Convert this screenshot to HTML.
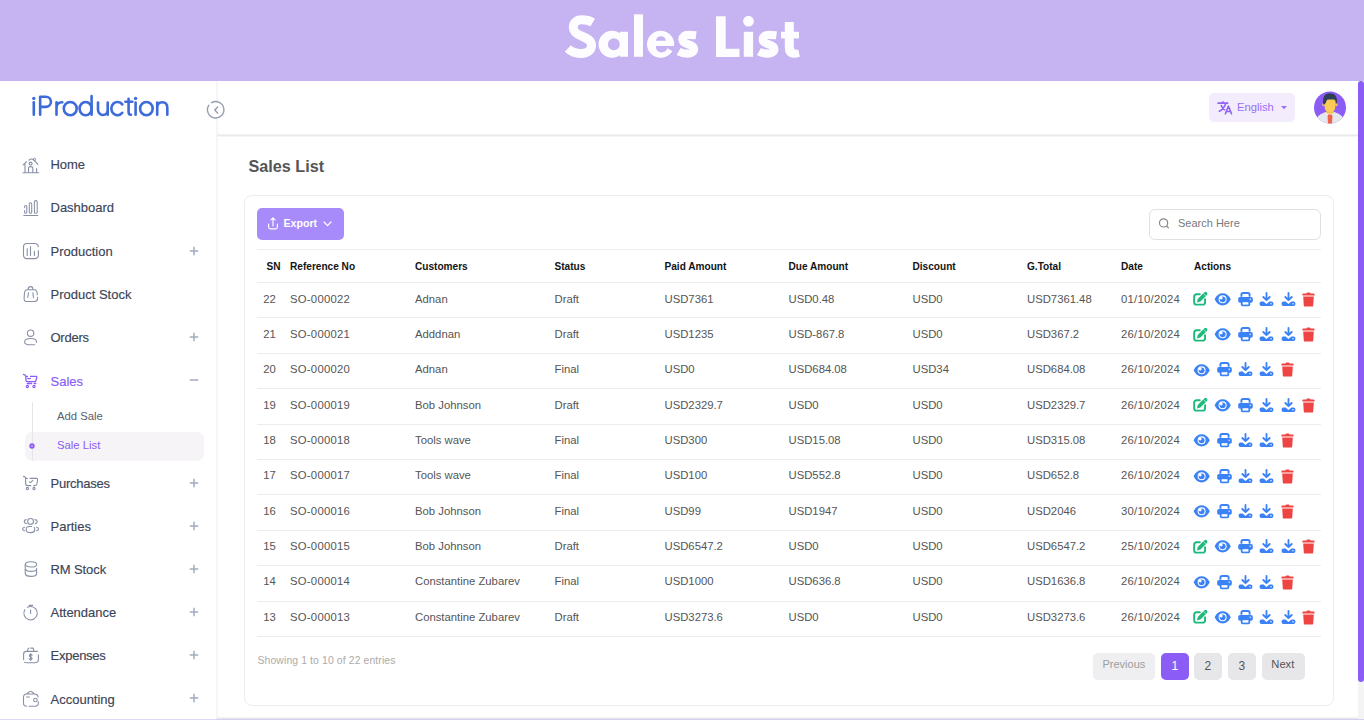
<!DOCTYPE html>
<html><head><meta charset="utf-8"><title>Sales List</title>
<style>
html,body{margin:0;padding:0;}
body{width:1364px;height:720px;overflow:hidden;position:relative;background:#fff;font-family:"Liberation Sans", sans-serif;}
.t{position:absolute;white-space:nowrap;}
.b{position:absolute;}
svg.b{overflow:visible;}
</style></head><body>
<div class="b" style="left:0px;top:0px;width:1364px;height:81px;background:#c6b3f2"></div>
<svg class="b" role="img" aria-label="Sales List" style="left:0px;top:0px;" width="1364" height="81" viewBox="0 0 1364 81"><path d="M592.7 22.5 C589.5 20.6 585.5 19.8 581.3 19.8 C576.5 19.8 573.3 23 573.3 27.5 C573.3 32 577 34.2 581.5 36 C587 38.2 591.5 40.2 591.5 45.5 C591.5 50.5 587 53.5 580.8 53.5 C575.5 53.5 571 51.5 567.8 48.5" fill="none" stroke="#fdfcff" stroke-width="9"/><path fill-rule="evenodd" d="M598.5 44.25 A13.5 13.5 0 1 0 625.5 44.25 A13.5 13.5 0 1 0 598.5 44.25 Z M607.9 44.25 A6 6 0 1 0 619.9 44.25 A6 6 0 1 0 607.9 44.25 Z" fill="#fdfcff"/><rect x="619.8" y="31.75" width="8.2" height="25" fill="#fdfcff"/><rect x="634" y="14.3" width="9" height="42.5" fill="#fdfcff"/><ellipse cx="660.6" cy="44.25" rx="13.6" ry="13.5" fill="#fdfcff"/><path d="M656 40.75 A4.9 4.6 0 0 1 665.8 40.75 Z" fill="#c6b3f2"/><path d="M656 46 H676 V53 L667.3 48.3 A5.3 4.8 0 0 1 656 46 Z" fill="#c6b3f2"/><path transform="translate(0 0)" d="M696.1 35.3 C693.5 35 690.5 34.9 688 34.9 C684.5 34.9 682.4 36.8 682.4 39.4 C682.4 42 685 43.3 688 44.2 C691.5 45.2 694.1 46.4 694.1 49 C694.1 52 691.2 53.6 687.5 53.6 C684 53.6 680.8 52.8 678.6 51.5" fill="none" stroke="#fdfcff" stroke-width="8.2"/><path d="M716 16.2 H725.7 V48.8 H739.5 V57 H716 Z" fill="#fdfcff"/><rect x="743.8" y="31.8" width="9.3" height="25" fill="#fdfcff"/><circle cx="748.5" cy="21.2" r="5.4" fill="#fdfcff"/><path transform="translate(80.3 0)" d="M696.1 35.3 C693.5 35 690.5 34.9 688 34.9 C684.5 34.9 682.4 36.8 682.4 39.4 C682.4 42 685 43.3 688 44.2 C691.5 45.2 694.1 46.4 694.1 49 C694.1 52 691.2 53.6 687.5 53.6 C684 53.6 680.8 52.8 678.6 51.5" fill="none" stroke="#fdfcff" stroke-width="8.2"/><path d="M784.8 22 H793.8 V46.5 Q793.8 49.8 796.5 49.8 Q797.6 49.8 798.2 49.5 L799.9 56.6 Q797.5 57.8 794.5 57.8 Q784.8 57.8 784.8 48 Z" fill="#fdfcff"/><rect x="781" y="31.8" width="18" height="6.6" fill="#fdfcff"/></svg>
<div class="b" style="left:0px;top:81px;width:1364px;height:639px;background:#fff"></div>
<div class="b" style="left:216px;top:81px;width:2px;height:639px;background:#f6f6f7"></div>
<div class="b" style="left:217px;top:134px;width:1141px;height:1px;background:#f1f1f3"></div>
<div class="b" style="left:217px;top:135px;width:1141px;height:1px;background:#ebebee"></div>
<div class="b" style="left:217px;top:136px;width:1141px;height:1px;background:#f5f5f7"></div>
<div class="b" style="left:217px;top:717px;width:1141px;height:1px;background:#f3f3f5"></div>
<div class="b" style="left:217px;top:718px;width:1141px;height:1px;background:#e7e8ea"></div>
<div class="b" style="left:0px;top:719px;width:1364px;height:1px;background:#d8cdf0"></div>
<div class="b" style="left:0px;top:719px;width:216px;height:1px;background:#e0d6f9"></div>
<svg class="b" role="img" aria-label="iProduction" style="left:0px;top:81px;" width="216" height="54" viewBox="0 81 216 54"><g fill="none" stroke="#3d6bd9" stroke-width="2.6" stroke-linecap="round" stroke-linejoin="round"><path d="M33.8 102.3 V114.7"/><path d="M40.15 114.7 V96.7 H45.8 A5.15 5.1 0 0 1 45.8 106.9 H40.15"/><path d="M56.5 102.3 V114.7 M56.5 108 Q56.5 102.3 62.3 102.3"/><ellipse cx="70.25" cy="108.6" rx="6.45" ry="6.6"/><ellipse cx="85.6" cy="108.6" rx="6" ry="6.6"/><path d="M91.6 96 V114.7"/><path d="M98 102.6 V109.4 A4.85 5.6 0 0 0 107.7 109.4 V102.6 M107.7 108 V114.7"/><path d="M122.3 104.4 A6.2 6.6 0 1 0 122.3 112.8"/><path d="M128.6 98.7 V112 Q128.6 114.8 131 114.8 M125.4 101.8 H132.3"/><path d="M135.6 102.6 V114.7"/><ellipse cx="146.4" cy="108.6" rx="6.3" ry="6.6"/><path d="M157.2 102.6 V114.7 M157.2 108 Q157.2 102.3 162.25 102.3 Q167.3 102.3 167.3 108 V114.7"/></g><circle cx="33.8" cy="98.4" r="1.7" fill="#3d6bd9"/><circle cx="135.6" cy="98.4" r="1.7" fill="#3d6bd9"/></svg>
<svg class="b" style="left:205.8px;top:99.5px;" width="20" height="20" viewBox="0 0 20 20"><circle cx="10" cy="10" r="8.6" fill="#fff"/><path d="M5.6 2.7 A8.2 8.2 0 1 1 2.9 5.2" fill="none" stroke="#969db2" stroke-width="1.35" stroke-linecap="round"/><path d="M11.6 7.1 L8.8 10 L11.6 12.9" fill="none" stroke="#969db2" stroke-width="1.45" stroke-linecap="round" stroke-linejoin="round"/></svg>
<svg class="b" style="left:18px;top:152px;" width="26" height="26" viewBox="0 0 26 26"><path d="M5.2 12.8 L8.6 9.6 M7 11.5 V20.8 M5 20.8 H20.6 M10.5 20.8 V16 Q10.5 14.6 12.6 14.6 Q14.8 14.6 14.8 16 V20.8 M18.6 16.5 V20.8 M15.6 7.6 L19.8 12.4 M11 8.2 Q13 6.2 15.6 7.6" fill="none" stroke="#8990a6" stroke-width="1.1" stroke-linecap="round"/><circle cx="12.6" cy="11.6" r="1.5" fill="none" stroke="#8990a6" stroke-width="1.1"/><circle cx="16.5" cy="7.5" r="1.2" fill="none" stroke="#8990a6" stroke-width="1"/></svg>
<div class="t" style="left:50.50px;top:157.50px;font-size:13px;line-height:13px;color:#3c4458;font-weight:500;letter-spacing:-0.1px;-webkit-text-stroke:0.15px #3c4458;">Home</div>
<svg class="b" style="left:18px;top:195px;" width="26" height="26" viewBox="0 0 26 26"><path d="M5.8 20.4 H19.8 M6.6 12.6 V11.6 Q6.6 10.5 7.7 10.5 Q8.8 10.5 8.8 11.6 V17.2 Q8.8 18.3 7.7 18.3 Q6.6 18.3 6.6 17.2 V15.4 M11.3 17.2 V8.9 Q11.3 7.8 12.5 7.8 Q13.7 7.8 13.7 8.9 V17.2 Q13.7 18.3 12.5 18.3 Q11.3 18.3 11.3 17.2 M16.4 17.2 V6.7 Q16.4 5.6 17.8 5.6 Q19.2 5.6 19.2 6.7 V17.2 Q19.2 18.3 17.8 18.3 Q16.4 18.3 16.4 17.2" fill="none" stroke="#8990a6" stroke-width="1.05" stroke-linecap="round"/></svg>
<div class="t" style="left:50.50px;top:200.50px;font-size:13px;line-height:13px;color:#3c4458;font-weight:500;letter-spacing:0px;-webkit-text-stroke:0.15px #3c4458;">Dashboard</div>
<svg class="b" style="left:18px;top:238px;" width="26" height="26" viewBox="0 0 26 26"><path d="M20.4 12.6 V17 Q20.4 20.6 16.8 20.6 H9 Q5.5 20.6 5.5 17 V9 Q5.5 5.5 9 5.5 H16.8 Q19.8 5.5 20.3 8.8 M9.2 10.8 V17.5 M12.5 8.6 V17.5 M16.4 13.4 V17.5" fill="none" stroke="#8990a6" stroke-width="1.1" stroke-linecap="round"/></svg>
<div class="t" style="left:50.50px;top:245.00px;font-size:13px;line-height:13px;color:#3c4458;font-weight:500;letter-spacing:0px;-webkit-text-stroke:0.15px #3c4458;">Production</div>
<svg class="b" style="left:189px;top:246px;" width="10" height="10" viewBox="0 0 10 10"><path d="M0.8 5 H9.2" stroke="#a3aac0" stroke-width="1.5"/><path d="M5 0.8 V9.2" stroke="#a3aac0" stroke-width="1.5"/></svg>
<svg class="b" style="left:18px;top:281px;" width="26" height="26" viewBox="0 0 26 26"><path d="M10.2 8.7 V8.2 Q10.2 5.6 12.6 5.6 Q14.9 5.6 14.9 8.2 V8.7 M19.3 13.8 Q19.2 8.8 16.5 8.8 H9.2 Q6.6 8.8 6.4 13 L6.1 17.6 Q6 20.5 9 20.5 H16.6 Q19.6 20.5 19.6 17.6 V16.2 M10.5 11.9 L9.7 16.4 M14.9 11.9 L15.5 16.4" fill="none" stroke="#8990a6" stroke-width="1.1" stroke-linecap="round"/></svg>
<div class="t" style="left:50.50px;top:287.50px;font-size:13px;line-height:13px;color:#3c4458;font-weight:500;letter-spacing:0px;-webkit-text-stroke:0.15px #3c4458;">Product Stock</div>
<svg class="b" style="left:18px;top:324px;" width="26" height="26" viewBox="0 0 26 26"><circle cx="12.6" cy="9.2" r="3.2" fill="none" stroke="#8990a6" stroke-width="1.1"/><path d="M18.6 18.2 Q18.6 14.5 12.8 14.5 Q6.6 14.5 6.6 17.9 Q6.6 20.8 12.6 20.8 H16.6" fill="none" stroke="#8990a6" stroke-width="1.1" stroke-linecap="round"/></svg>
<div class="t" style="left:50.50px;top:331.00px;font-size:13px;line-height:13px;color:#3c4458;font-weight:500;letter-spacing:-0.25px;-webkit-text-stroke:0.15px #3c4458;">Orders</div>
<svg class="b" style="left:189px;top:332px;" width="10" height="10" viewBox="0 0 10 10"><path d="M0.8 5 H9.2" stroke="#a3aac0" stroke-width="1.5"/><path d="M5 0.8 V9.2" stroke="#a3aac0" stroke-width="1.5"/></svg>
<svg class="b" style="left:18px;top:368px;" width="26" height="26" viewBox="0 0 26 26"><path d="M5.4 6.4 Q7.4 6.6 7.9 8.4 H9.4 M12.6 8.4 H18.4 Q19 8.6 18.8 9.6 L17.8 12.8 Q17.6 13.6 16.4 13.6 H9.4 Q7.9 13.6 7.9 12.2 V8.4 M9.8 10.4 Q10.9 11 12.4 10.4 M9.2 15.5 H13.6 M16.2 15.5 H17.8" fill="none" stroke="#8b5cf6" stroke-width="1.3" stroke-linecap="round"/><circle cx="9.4" cy="18.5" r="1.1" fill="none" stroke="#8b5cf6" stroke-width="1.2"/><circle cx="16" cy="18.5" r="1.1" fill="none" stroke="#8b5cf6" stroke-width="1.2"/></svg>
<div class="t" style="left:50.50px;top:375.00px;font-size:13px;line-height:13px;color:#8b5cf6;font-weight:500;letter-spacing:0px;-webkit-text-stroke:0.15px #8b5cf6;">Sales</div>
<svg class="b" style="left:189px;top:375px;" width="10" height="10" viewBox="0 0 10 10"><path d="M0.8 5 H9.2" stroke="#a3aac0" stroke-width="1.5"/></svg>
<svg class="b" style="left:18px;top:470px;" width="26" height="26" viewBox="0 0 26 26"><path d="M5.4 6.4 Q7.4 6.6 7.9 8.4 H9.4 M12 8.4 H18.6 Q19.8 8.6 19.6 10 L19 13.6 Q18.7 15.6 16.6 15.6 H15.6 M12.8 15.6 H9.6 Q7.6 15.6 7.6 13.6 V8.4 M11.6 12 L12.6 12.6 L14.8 10.4" fill="none" stroke="#8990a6" stroke-width="1.1" stroke-linecap="round"/><circle cx="9.4" cy="18.5" r="1.1" fill="none" stroke="#8990a6" stroke-width="1.1"/><circle cx="16" cy="18.5" r="1.1" fill="none" stroke="#8990a6" stroke-width="1.1"/></svg>
<div class="t" style="left:50.50px;top:477.00px;font-size:13px;line-height:13px;color:#3c4458;font-weight:500;letter-spacing:-0.25px;-webkit-text-stroke:0.15px #3c4458;">Purchases</div>
<svg class="b" style="left:189px;top:478px;" width="10" height="10" viewBox="0 0 10 10"><path d="M0.8 5 H9.2" stroke="#a3aac0" stroke-width="1.5"/><path d="M5 0.8 V9.2" stroke="#a3aac0" stroke-width="1.5"/></svg>
<svg class="b" style="left:18px;top:513px;" width="26" height="26" viewBox="0 0 26 26"><circle cx="12.6" cy="8.4" r="2.9" fill="none" stroke="#8990a6" stroke-width="1.1"/><path d="M8.4 10.6 Q6.2 10.4 6.2 8.6 Q6.2 6.8 8.2 6.6 M17 6.6 Q19.2 6.8 19.2 8.6 Q19.2 10.4 17.2 10.6 M13.6 13.5 H11.4 Q8.2 13.5 8.2 16.4 Q8.2 19.6 12.6 19.6 Q16.6 19.6 16.8 16.6 Q16.8 15 16.2 14.4 M6.6 14.2 Q4.6 14.6 4.6 16 Q4.6 17.4 6.6 17.8 M18.6 14.2 Q20.6 14.6 20.6 16 Q20.6 17.4 18.6 17.8" fill="none" stroke="#8990a6" stroke-width="1.1" stroke-linecap="round"/></svg>
<div class="t" style="left:50.50px;top:520.00px;font-size:13px;line-height:13px;color:#3c4458;font-weight:500;letter-spacing:0px;-webkit-text-stroke:0.15px #3c4458;">Parties</div>
<svg class="b" style="left:189px;top:521px;" width="10" height="10" viewBox="0 0 10 10"><path d="M0.8 5 H9.2" stroke="#a3aac0" stroke-width="1.5"/><path d="M5 0.8 V9.2" stroke="#a3aac0" stroke-width="1.5"/></svg>
<svg class="b" style="left:18px;top:556px;" width="26" height="26" viewBox="0 0 26 26"><ellipse cx="13" cy="8.4" rx="5.6" ry="2.6" fill="none" stroke="#8990a6" stroke-width="1.1"/><path d="M7.2 8.4 V17.4 Q7.4 20.4 13 20.4 Q18.4 20.4 18.6 17.6 V12.4 M7.6 13.2 Q8.6 15.4 13 15.4 Q17.4 15.4 18.2 14" fill="none" stroke="#8990a6" stroke-width="1.1" stroke-linecap="round"/></svg>
<div class="t" style="left:50.50px;top:563.00px;font-size:13px;line-height:13px;color:#3c4458;font-weight:500;letter-spacing:-0.1px;-webkit-text-stroke:0.15px #3c4458;">RM Stock</div>
<svg class="b" style="left:189px;top:564px;" width="10" height="10" viewBox="0 0 10 10"><path d="M0.8 5 H9.2" stroke="#a3aac0" stroke-width="1.5"/><path d="M5 0.8 V9.2" stroke="#a3aac0" stroke-width="1.5"/></svg>
<svg class="b" style="left:18px;top:599px;" width="26" height="26" viewBox="0 0 26 26"><path d="M9.4 8.3 Q11 7.5 12.6 7.5 A6.7 6.7 0 1 1 6.8 10.8 M11.2 6.4 H14.6 M12.6 11 V14.4" fill="none" stroke="#8990a6" stroke-width="1.1" stroke-linecap="round"/></svg>
<div class="t" style="left:50.50px;top:606.00px;font-size:13px;line-height:13px;color:#3c4458;font-weight:500;letter-spacing:0px;-webkit-text-stroke:0.15px #3c4458;">Attendance</div>
<svg class="b" style="left:189px;top:607px;" width="10" height="10" viewBox="0 0 10 10"><path d="M0.8 5 H9.2" stroke="#a3aac0" stroke-width="1.5"/><path d="M5 0.8 V9.2" stroke="#a3aac0" stroke-width="1.5"/></svg>
<svg class="b" style="left:18px;top:642px;" width="26" height="26" viewBox="0 0 26 26"><path d="M5.6 17.6 V12 Q5.6 9.4 8.6 9.4 H19.4 M20.4 12.8 V17.6 Q20.4 20.8 16.8 20.8 H8.8 Q6.6 20.8 6.4 20.2 M9.6 9 V7.8 Q10 6.2 11 6 M12.8 6.1 H14.8 Q15.6 6.2 15.6 7.6 V9 M14 13.4 Q13.6 12.3 12.6 12.3 Q11.4 12.3 11.4 13.5 Q11.4 14.6 12.6 14.9 Q14 15.2 14 16.4 Q14 17.6 12.6 17.6 Q11.4 17.6 11.1 16.6 M12.6 11.6 V18.4" fill="none" stroke="#8990a6" stroke-width="1.1" stroke-linecap="round"/></svg>
<div class="t" style="left:50.50px;top:649.00px;font-size:13px;line-height:13px;color:#3c4458;font-weight:500;letter-spacing:-0.25px;-webkit-text-stroke:0.15px #3c4458;">Expenses</div>
<svg class="b" style="left:189px;top:650px;" width="10" height="10" viewBox="0 0 10 10"><path d="M0.8 5 H9.2" stroke="#a3aac0" stroke-width="1.5"/><path d="M5 0.8 V9.2" stroke="#a3aac0" stroke-width="1.5"/></svg>
<svg class="b" style="left:18px;top:686px;" width="26" height="26" viewBox="0 0 26 26"><path d="M8.6 20.2 Q5.5 20.2 5.5 17 V11.4 Q5.5 8 8.6 8 H16.8 Q19.6 8 20.2 11 M20.3 15.8 V17 Q20.3 20.2 17 20.2 H11 M8.4 8 L11.6 5.6 Q12.6 4.9 13.6 5.6 L16.6 8 M8.6 11 H11.4" fill="none" stroke="#8990a6" stroke-width="1.1" stroke-linecap="round"/><circle cx="17.4" cy="14" r="1.8" fill="none" stroke="#8990a6" stroke-width="1.1"/></svg>
<div class="t" style="left:50.50px;top:692.50px;font-size:13px;line-height:13px;color:#3c4458;font-weight:500;letter-spacing:0px;-webkit-text-stroke:0.15px #3c4458;">Accounting</div>
<svg class="b" style="left:189px;top:693px;" width="10" height="10" viewBox="0 0 10 10"><path d="M0.8 5 H9.2" stroke="#a3aac0" stroke-width="1.5"/><path d="M5 0.8 V9.2" stroke="#a3aac0" stroke-width="1.5"/></svg>
<div class="b" style="left:25px;top:432px;width:179px;height:29px;background:#f6f4f6;border-radius:7px"></div>
<div class="b" style="left:32px;top:402px;width:1px;height:59px;background:#e6e6ea"></div>
<svg class="b" style="left:29.4px;top:443.4px;" width="6" height="6" viewBox="0 0 6 6"><circle cx="3" cy="3" r="2.7" fill="#8b5cf6"/><circle cx="3" cy="3" r="0.8" fill="#e9e0fd"/></svg>
<div class="t" style="left:57.00px;top:411.23px;font-size:11.3px;line-height:11.3px;color:#5a5f6b;font-weight:400;">Add Sale</div>
<div class="t" style="left:57.00px;top:440.03px;font-size:11.3px;line-height:11.3px;color:#8b5cf6;font-weight:400;">Sale List</div>
<div class="b" style="left:1209px;top:93px;width:86px;height:29px;background:#f2ecfd;border-radius:5px"></div>
<svg class="b" style="left:1217px;top:101px;" width="16" height="14" viewBox="0 0 16 14"><path d="M1 2.1 H10.8 M5.9 0.7 V2 M8.7 2.7 Q6.6 8.2 2.3 10.2 M4.3 4.6 Q5.6 7.6 7.6 8.7" fill="none" stroke="#9062f6" stroke-width="1.6" stroke-linecap="round"/><path d="M8.4 12.8 L11.4 5.1 L14.5 12.8 M9.5 10.5 H13.3" fill="none" stroke="#9062f6" stroke-width="1.6" stroke-linecap="round" stroke-linejoin="round"/></svg>
<div class="t" style="left:1237.00px;top:101.52px;font-size:11.2px;line-height:11.2px;color:#9a6ef7;font-weight:400;">English</div>
<svg class="b" style="left:1281.2px;top:106.2px;" width="6" height="3.4" viewBox="0 0 6 3.4"><path d="M0 0 H6 L3 3.2 Z" fill="#9a6ef7"/></svg>
<svg class="b" style="left:1314px;top:91px;" width="32" height="33" viewBox="0 0 32 33"><defs><clipPath id="ac"><circle cx="16" cy="16.5" r="16"/></clipPath></defs><circle cx="16" cy="16.5" r="16" fill="#8b5cf6"/><g clip-path="url(#ac)"><path d="M0 34 Q1.5 23.8 11 21.2 H21 Q30.5 23.8 32 34 Z" fill="#e4e8ed"/><path d="M11 21.2 L13.6 24.5 L16 22.6 L18.4 24.5 L21 21.2 Z" fill="#f6f7f9"/><rect x="12.4" y="17" width="7.2" height="5.6" fill="#f3bd48"/><path d="M14 23.4 H18 L18.4 25.4 L18 33 H14 L13.6 25.4 Z" fill="#f0624a"/><ellipse cx="9.6" cy="13.6" rx="1.3" ry="1.6" fill="#fbc955"/><ellipse cx="22.4" cy="13.6" rx="1.3" ry="1.6" fill="#fbc955"/><path d="M10.6 8 V15 Q10.6 21.4 16 21.4 Q21.4 21.4 21.4 15 V8 Z" fill="#fcca56"/><path d="M9.2 13.6 Q7.8 2.3 16 2.3 Q24.2 2.3 22.8 13.6 L21.8 10.6 Q21.4 8.4 19.6 8.4 H13.8 Q12.4 8.8 11.9 11.8 L10.4 13.6 Z" fill="#2e3e55"/></g></svg>
<div class="b" style="left:1358px;top:81px;width:6px;height:638px;background:#f4f4f5"></div>
<div class="b" style="left:1358px;top:81px;width:6px;height:601px;background:#8b5cf6;border-radius:3px"></div>
<div class="t" style="left:248.50px;top:157.89px;font-size:16.2px;line-height:16.2px;color:#555;font-weight:700;">Sales List</div>
<div class="b" style="left:244px;top:195px;width:1090px;height:511px;border:1px solid #ececee;border-radius:8px;box-sizing:border-box;background:#fff"></div>
<div class="b" style="left:257px;top:208px;width:87px;height:32px;background:#a78bfa;border-radius:5px"></div>
<svg class="b" style="left:267px;top:216px;" width="12" height="14" viewBox="0 0 12 14"><path d="M1.6 8 V11 Q1.6 12.9 3.4 12.9 H8.6 Q10.4 12.9 10.4 11 V8 M6 10 V1.8 M3.9 3.9 L6 1.8 L8.1 3.9" fill="none" stroke="#fff" stroke-width="1.15" stroke-linecap="round" stroke-linejoin="round"/></svg>
<div class="t" style="left:283.50px;top:217.53px;font-size:10.6px;line-height:10.6px;color:#fff;font-weight:700;">Export</div>
<svg class="b" style="left:323px;top:221px;" width="9" height="6" viewBox="0 0 9 6"><path d="M1 1 L4.5 4.6 L8 1" fill="none" stroke="#fff" stroke-width="1.2" stroke-linecap="round" stroke-linejoin="round"/></svg>
<div class="b" style="left:1149px;top:208.5px;width:172px;height:31.5px;border:1px solid #dfdfe5;border-radius:6px;box-sizing:border-box;background:#fff"></div>
<svg class="b" style="left:1158px;top:218px;" width="12" height="12" viewBox="0 0 12 12"><circle cx="5.6" cy="4.9" r="4.1" fill="none" stroke="#858585" stroke-width="1.15"/><path d="M8.7 8 L10.4 9.9" stroke="#858585" stroke-width="1.2" stroke-linecap="round"/></svg>
<div class="t" style="left:1178.00px;top:218.19px;font-size:11px;line-height:11px;color:#7a7a7a;font-weight:400;">Search Here</div>
<div class="b" style="left:257px;top:249px;width:1064px;height:1px;background:#eeeeef"></div>
<div class="t" style="left:266.50px;top:261.55px;font-size:10.1px;line-height:10.1px;color:#141414;font-weight:700;">SN</div>
<div class="t" style="left:290.00px;top:261.55px;font-size:10.1px;line-height:10.1px;color:#141414;font-weight:700;">Reference No</div>
<div class="t" style="left:415.00px;top:261.55px;font-size:10.1px;line-height:10.1px;color:#141414;font-weight:700;">Customers</div>
<div class="t" style="left:554.50px;top:261.55px;font-size:10.1px;line-height:10.1px;color:#141414;font-weight:700;">Status</div>
<div class="t" style="left:664.50px;top:261.55px;font-size:10.1px;line-height:10.1px;color:#141414;font-weight:700;">Paid Amount</div>
<div class="t" style="left:788.50px;top:261.55px;font-size:10.1px;line-height:10.1px;color:#141414;font-weight:700;">Due Amount</div>
<div class="t" style="left:912.50px;top:261.55px;font-size:10.1px;line-height:10.1px;color:#141414;font-weight:700;">Discount</div>
<div class="t" style="left:1027.00px;top:261.55px;font-size:10.1px;line-height:10.1px;color:#141414;font-weight:700;">G.Total</div>
<div class="t" style="left:1121.00px;top:261.55px;font-size:10.1px;line-height:10.1px;color:#141414;font-weight:700;">Date</div>
<div class="t" style="left:1194.00px;top:261.55px;font-size:10.1px;line-height:10.1px;color:#141414;font-weight:700;">Actions</div>
<div class="b" style="left:257px;top:282px;width:1064px;height:1px;background:#ececee"></div>
<div class="t" style="left:263.20px;top:293.73px;font-size:11.3px;line-height:11.3px;color:#555;font-weight:400;">22</div>
<div class="t" style="left:290.00px;top:293.73px;font-size:11.3px;line-height:11.3px;color:#555;font-weight:400;letter-spacing:0.26px;">SO-000022</div>
<div class="t" style="left:415.00px;top:293.73px;font-size:11.3px;line-height:11.3px;color:#555;font-weight:400;">Adnan</div>
<div class="t" style="left:554.50px;top:293.73px;font-size:11.3px;line-height:11.3px;color:#555;font-weight:400;">Draft</div>
<div class="t" style="left:664.50px;top:293.73px;font-size:11.3px;line-height:11.3px;color:#555;font-weight:400;">USD7361</div>
<div class="t" style="left:788.50px;top:293.73px;font-size:11.3px;line-height:11.3px;color:#555;font-weight:400;">USD0.48</div>
<div class="t" style="left:912.50px;top:293.73px;font-size:11.3px;line-height:11.3px;color:#555;font-weight:400;">USD0</div>
<div class="t" style="left:1027.00px;top:293.73px;font-size:11.3px;line-height:11.3px;color:#555;font-weight:400;">USD7361.48</div>
<div class="t" style="left:1121.00px;top:293.73px;font-size:11.3px;line-height:11.3px;color:#555;font-weight:400;letter-spacing:0.26px;">01/10/2024</div>
<div class="b" style="left:257px;top:317px;width:1064px;height:1px;background:#ececee"></div>
<svg class="b" style="left:1193px;top:291.2px;" width="15" height="15" viewBox="0 0 15 15"><path d="M6.8 3.25 H3.6 Q1.15 3.25 1.15 5.7 V11.2 Q1.15 13.65 3.6 13.65 H9.6 Q12.05 13.65 12.05 11.2 V8.2" fill="none" stroke="#1dba7c" stroke-width="1.9" stroke-linecap="round"/><path d="M4 11.4 L4.7 8 L11.4 1.3 Q12.5 0.3 13.6 1.3 L14 1.7 Q15 2.8 14 3.9 L7.4 10.6 Z" fill="#1dba7c"/><path d="M10.4 2.3 L13 4.9" stroke="#fff" stroke-width="0.6"/></svg>
<svg class="b" style="left:1214.2px;top:292.8px;" width="17" height="13" viewBox="0 0 17 13"><path d="M0.6 6.35 C2.6 2.2 5.3 0.3 8.6 0.3 C11.9 0.3 14.7 2.2 16.8 6.35 C14.7 10.5 11.9 12.5 8.6 12.5 C5.3 12.5 2.6 10.5 0.6 6.35 Z" fill="#3b82f6"/><circle cx="8.6" cy="6.35" r="4.0" fill="#fff"/><circle cx="8.6" cy="6.35" r="2.95" fill="#3b82f6"/><circle cx="7.2" cy="5.0" r="1.45" fill="#fff"/><circle cx="8.6" cy="6.35" r="2.95" fill="none" stroke="#fff" stroke-width="0.0"/></svg>
<svg class="b" style="left:1237.5px;top:291.7px;" width="15" height="15" viewBox="0 0 15 15"><path d="M3.4 4.8 V2.5 Q3.4 0.95 5 0.95 H10 Q11.6 0.95 11.6 2.5 V4.8" fill="none" stroke="#3b82f6" stroke-width="1.9"/><rect x="0.2" y="5" width="14.6" height="5.8" rx="1.8" fill="#3b82f6"/><rect x="2.8" y="8.8" width="9.4" height="5.4" rx="1.6" fill="#3b82f6"/><rect x="4.6" y="10.2" width="5.8" height="2.4" fill="#fff"/><circle cx="12.2" cy="7.3" r="0.7" fill="#fff"/></svg>
<svg class="b" style="left:1258.8px;top:291.7px;" width="15" height="15" viewBox="0 0 15 15"><path d="M7.5 1 V8 M4.3 5 L7.5 8.2 L10.7 5" fill="none" stroke="#3b82f6" stroke-width="1.85" stroke-linecap="round" stroke-linejoin="round"/><path d="M0.6 11.2 Q0.6 9.4 2.4 9.4 H4.6 L7.5 12 L10.4 9.4 H12.6 Q14.4 9.4 14.4 11.2 V12.3 Q14.4 14.1 12.6 14.1 H2.4 Q0.6 14.1 0.6 12.3 Z" fill="#3b82f6"/><circle cx="12" cy="11.8" r="0.7" fill="#fff"/></svg>
<svg class="b" style="left:1280.6px;top:291.7px;" width="15" height="15" viewBox="0 0 15 15"><path d="M7.5 1 V8 M4.3 5 L7.5 8.2 L10.7 5" fill="none" stroke="#3b82f6" stroke-width="1.85" stroke-linecap="round" stroke-linejoin="round"/><path d="M0.6 11.2 Q0.6 9.4 2.4 9.4 H4.6 L7.5 12 L10.4 9.4 H12.6 Q14.4 9.4 14.4 11.2 V12.3 Q14.4 14.1 12.6 14.1 H2.4 Q0.6 14.1 0.6 12.3 Z" fill="#3b82f6"/><circle cx="12" cy="11.8" r="0.7" fill="#fff"/></svg>
<svg class="b" style="left:1301.8px;top:291.7px;" width="13" height="15" viewBox="0 0 13 15"><path d="M0.4 2.6 Q0.4 1.6 1.4 1.6 H4.4 L4.8 0.8 Q5 0.4 5.6 0.4 H7.4 Q8 0.4 8.2 0.8 L8.6 1.6 H11.6 Q12.6 1.6 12.6 2.6 V3.6 H0.4 Z" fill="#ef4444"/><path d="M1.2 4.4 H11.8 L11.2 13.4 Q11.1 14.6 9.8 14.6 H3.2 Q1.9 14.6 1.8 13.4 Z" fill="#ef4444"/></svg>
<div class="t" style="left:263.20px;top:329.06px;font-size:11.3px;line-height:11.3px;color:#555;font-weight:400;">21</div>
<div class="t" style="left:290.00px;top:329.06px;font-size:11.3px;line-height:11.3px;color:#555;font-weight:400;letter-spacing:0.26px;">SO-000021</div>
<div class="t" style="left:415.00px;top:329.06px;font-size:11.3px;line-height:11.3px;color:#555;font-weight:400;">Adddnan</div>
<div class="t" style="left:554.50px;top:329.06px;font-size:11.3px;line-height:11.3px;color:#555;font-weight:400;">Draft</div>
<div class="t" style="left:664.50px;top:329.06px;font-size:11.3px;line-height:11.3px;color:#555;font-weight:400;">USD1235</div>
<div class="t" style="left:788.50px;top:329.06px;font-size:11.3px;line-height:11.3px;color:#555;font-weight:400;">USD-867.8</div>
<div class="t" style="left:912.50px;top:329.06px;font-size:11.3px;line-height:11.3px;color:#555;font-weight:400;">USD0</div>
<div class="t" style="left:1027.00px;top:329.06px;font-size:11.3px;line-height:11.3px;color:#555;font-weight:400;">USD367.2</div>
<div class="t" style="left:1121.00px;top:329.06px;font-size:11.3px;line-height:11.3px;color:#555;font-weight:400;letter-spacing:0.26px;">26/10/2024</div>
<div class="b" style="left:257px;top:353px;width:1064px;height:1px;background:#ececee"></div>
<svg class="b" style="left:1193px;top:326.56px;" width="15" height="15" viewBox="0 0 15 15"><path d="M6.8 3.25 H3.6 Q1.15 3.25 1.15 5.7 V11.2 Q1.15 13.65 3.6 13.65 H9.6 Q12.05 13.65 12.05 11.2 V8.2" fill="none" stroke="#1dba7c" stroke-width="1.9" stroke-linecap="round"/><path d="M4 11.4 L4.7 8 L11.4 1.3 Q12.5 0.3 13.6 1.3 L14 1.7 Q15 2.8 14 3.9 L7.4 10.6 Z" fill="#1dba7c"/><path d="M10.4 2.3 L13 4.9" stroke="#fff" stroke-width="0.6"/></svg>
<svg class="b" style="left:1214.2px;top:328.16px;" width="17" height="13" viewBox="0 0 17 13"><path d="M0.6 6.35 C2.6 2.2 5.3 0.3 8.6 0.3 C11.9 0.3 14.7 2.2 16.8 6.35 C14.7 10.5 11.9 12.5 8.6 12.5 C5.3 12.5 2.6 10.5 0.6 6.35 Z" fill="#3b82f6"/><circle cx="8.6" cy="6.35" r="4.0" fill="#fff"/><circle cx="8.6" cy="6.35" r="2.95" fill="#3b82f6"/><circle cx="7.2" cy="5.0" r="1.45" fill="#fff"/><circle cx="8.6" cy="6.35" r="2.95" fill="none" stroke="#fff" stroke-width="0.0"/></svg>
<svg class="b" style="left:1237.5px;top:327.06px;" width="15" height="15" viewBox="0 0 15 15"><path d="M3.4 4.8 V2.5 Q3.4 0.95 5 0.95 H10 Q11.6 0.95 11.6 2.5 V4.8" fill="none" stroke="#3b82f6" stroke-width="1.9"/><rect x="0.2" y="5" width="14.6" height="5.8" rx="1.8" fill="#3b82f6"/><rect x="2.8" y="8.8" width="9.4" height="5.4" rx="1.6" fill="#3b82f6"/><rect x="4.6" y="10.2" width="5.8" height="2.4" fill="#fff"/><circle cx="12.2" cy="7.3" r="0.7" fill="#fff"/></svg>
<svg class="b" style="left:1258.8px;top:327.06px;" width="15" height="15" viewBox="0 0 15 15"><path d="M7.5 1 V8 M4.3 5 L7.5 8.2 L10.7 5" fill="none" stroke="#3b82f6" stroke-width="1.85" stroke-linecap="round" stroke-linejoin="round"/><path d="M0.6 11.2 Q0.6 9.4 2.4 9.4 H4.6 L7.5 12 L10.4 9.4 H12.6 Q14.4 9.4 14.4 11.2 V12.3 Q14.4 14.1 12.6 14.1 H2.4 Q0.6 14.1 0.6 12.3 Z" fill="#3b82f6"/><circle cx="12" cy="11.8" r="0.7" fill="#fff"/></svg>
<svg class="b" style="left:1280.6px;top:327.06px;" width="15" height="15" viewBox="0 0 15 15"><path d="M7.5 1 V8 M4.3 5 L7.5 8.2 L10.7 5" fill="none" stroke="#3b82f6" stroke-width="1.85" stroke-linecap="round" stroke-linejoin="round"/><path d="M0.6 11.2 Q0.6 9.4 2.4 9.4 H4.6 L7.5 12 L10.4 9.4 H12.6 Q14.4 9.4 14.4 11.2 V12.3 Q14.4 14.1 12.6 14.1 H2.4 Q0.6 14.1 0.6 12.3 Z" fill="#3b82f6"/><circle cx="12" cy="11.8" r="0.7" fill="#fff"/></svg>
<svg class="b" style="left:1301.8px;top:327.06px;" width="13" height="15" viewBox="0 0 13 15"><path d="M0.4 2.6 Q0.4 1.6 1.4 1.6 H4.4 L4.8 0.8 Q5 0.4 5.6 0.4 H7.4 Q8 0.4 8.2 0.8 L8.6 1.6 H11.6 Q12.6 1.6 12.6 2.6 V3.6 H0.4 Z" fill="#ef4444"/><path d="M1.2 4.4 H11.8 L11.2 13.4 Q11.1 14.6 9.8 14.6 H3.2 Q1.9 14.6 1.8 13.4 Z" fill="#ef4444"/></svg>
<div class="t" style="left:263.20px;top:364.39px;font-size:11.3px;line-height:11.3px;color:#555;font-weight:400;">20</div>
<div class="t" style="left:290.00px;top:364.39px;font-size:11.3px;line-height:11.3px;color:#555;font-weight:400;letter-spacing:0.26px;">SO-000020</div>
<div class="t" style="left:415.00px;top:364.39px;font-size:11.3px;line-height:11.3px;color:#555;font-weight:400;">Adnan</div>
<div class="t" style="left:554.50px;top:364.39px;font-size:11.3px;line-height:11.3px;color:#555;font-weight:400;">Final</div>
<div class="t" style="left:664.50px;top:364.39px;font-size:11.3px;line-height:11.3px;color:#555;font-weight:400;">USD0</div>
<div class="t" style="left:788.50px;top:364.39px;font-size:11.3px;line-height:11.3px;color:#555;font-weight:400;">USD684.08</div>
<div class="t" style="left:912.50px;top:364.39px;font-size:11.3px;line-height:11.3px;color:#555;font-weight:400;">USD34</div>
<div class="t" style="left:1027.00px;top:364.39px;font-size:11.3px;line-height:11.3px;color:#555;font-weight:400;">USD684.08</div>
<div class="t" style="left:1121.00px;top:364.39px;font-size:11.3px;line-height:11.3px;color:#555;font-weight:400;letter-spacing:0.26px;">26/10/2024</div>
<div class="b" style="left:257px;top:388px;width:1064px;height:1px;background:#ececee"></div>
<svg class="b" style="left:1193px;top:363.52px;" width="17" height="13" viewBox="0 0 17 13"><path d="M0.6 6.35 C2.6 2.2 5.3 0.3 8.6 0.3 C11.9 0.3 14.7 2.2 16.8 6.35 C14.7 10.5 11.9 12.5 8.6 12.5 C5.3 12.5 2.6 10.5 0.6 6.35 Z" fill="#3b82f6"/><circle cx="8.6" cy="6.35" r="4.0" fill="#fff"/><circle cx="8.6" cy="6.35" r="2.95" fill="#3b82f6"/><circle cx="7.2" cy="5.0" r="1.45" fill="#fff"/><circle cx="8.6" cy="6.35" r="2.95" fill="none" stroke="#fff" stroke-width="0.0"/></svg>
<svg class="b" style="left:1216.5px;top:362.41999999999996px;" width="15" height="15" viewBox="0 0 15 15"><path d="M3.4 4.8 V2.5 Q3.4 0.95 5 0.95 H10 Q11.6 0.95 11.6 2.5 V4.8" fill="none" stroke="#3b82f6" stroke-width="1.9"/><rect x="0.2" y="5" width="14.6" height="5.8" rx="1.8" fill="#3b82f6"/><rect x="2.8" y="8.8" width="9.4" height="5.4" rx="1.6" fill="#3b82f6"/><rect x="4.6" y="10.2" width="5.8" height="2.4" fill="#fff"/><circle cx="12.2" cy="7.3" r="0.7" fill="#fff"/></svg>
<svg class="b" style="left:1237.6px;top:362.41999999999996px;" width="15" height="15" viewBox="0 0 15 15"><path d="M7.5 1 V8 M4.3 5 L7.5 8.2 L10.7 5" fill="none" stroke="#3b82f6" stroke-width="1.85" stroke-linecap="round" stroke-linejoin="round"/><path d="M0.6 11.2 Q0.6 9.4 2.4 9.4 H4.6 L7.5 12 L10.4 9.4 H12.6 Q14.4 9.4 14.4 11.2 V12.3 Q14.4 14.1 12.6 14.1 H2.4 Q0.6 14.1 0.6 12.3 Z" fill="#3b82f6"/><circle cx="12" cy="11.8" r="0.7" fill="#fff"/></svg>
<svg class="b" style="left:1258.8px;top:362.41999999999996px;" width="15" height="15" viewBox="0 0 15 15"><path d="M7.5 1 V8 M4.3 5 L7.5 8.2 L10.7 5" fill="none" stroke="#3b82f6" stroke-width="1.85" stroke-linecap="round" stroke-linejoin="round"/><path d="M0.6 11.2 Q0.6 9.4 2.4 9.4 H4.6 L7.5 12 L10.4 9.4 H12.6 Q14.4 9.4 14.4 11.2 V12.3 Q14.4 14.1 12.6 14.1 H2.4 Q0.6 14.1 0.6 12.3 Z" fill="#3b82f6"/><circle cx="12" cy="11.8" r="0.7" fill="#fff"/></svg>
<svg class="b" style="left:1280.8px;top:362.41999999999996px;" width="13" height="15" viewBox="0 0 13 15"><path d="M0.4 2.6 Q0.4 1.6 1.4 1.6 H4.4 L4.8 0.8 Q5 0.4 5.6 0.4 H7.4 Q8 0.4 8.2 0.8 L8.6 1.6 H11.6 Q12.6 1.6 12.6 2.6 V3.6 H0.4 Z" fill="#ef4444"/><path d="M1.2 4.4 H11.8 L11.2 13.4 Q11.1 14.6 9.8 14.6 H3.2 Q1.9 14.6 1.8 13.4 Z" fill="#ef4444"/></svg>
<div class="t" style="left:263.20px;top:399.72px;font-size:11.3px;line-height:11.3px;color:#555;font-weight:400;">19</div>
<div class="t" style="left:290.00px;top:399.72px;font-size:11.3px;line-height:11.3px;color:#555;font-weight:400;letter-spacing:0.26px;">SO-000019</div>
<div class="t" style="left:415.00px;top:399.72px;font-size:11.3px;line-height:11.3px;color:#555;font-weight:400;">Bob Johnson</div>
<div class="t" style="left:554.50px;top:399.72px;font-size:11.3px;line-height:11.3px;color:#555;font-weight:400;">Draft</div>
<div class="t" style="left:664.50px;top:399.72px;font-size:11.3px;line-height:11.3px;color:#555;font-weight:400;">USD2329.7</div>
<div class="t" style="left:788.50px;top:399.72px;font-size:11.3px;line-height:11.3px;color:#555;font-weight:400;">USD0</div>
<div class="t" style="left:912.50px;top:399.72px;font-size:11.3px;line-height:11.3px;color:#555;font-weight:400;">USD0</div>
<div class="t" style="left:1027.00px;top:399.72px;font-size:11.3px;line-height:11.3px;color:#555;font-weight:400;">USD2329.7</div>
<div class="t" style="left:1121.00px;top:399.72px;font-size:11.3px;line-height:11.3px;color:#555;font-weight:400;letter-spacing:0.26px;">26/10/2024</div>
<div class="b" style="left:257px;top:424px;width:1064px;height:1px;background:#ececee"></div>
<svg class="b" style="left:1193px;top:397.28px;" width="15" height="15" viewBox="0 0 15 15"><path d="M6.8 3.25 H3.6 Q1.15 3.25 1.15 5.7 V11.2 Q1.15 13.65 3.6 13.65 H9.6 Q12.05 13.65 12.05 11.2 V8.2" fill="none" stroke="#1dba7c" stroke-width="1.9" stroke-linecap="round"/><path d="M4 11.4 L4.7 8 L11.4 1.3 Q12.5 0.3 13.6 1.3 L14 1.7 Q15 2.8 14 3.9 L7.4 10.6 Z" fill="#1dba7c"/><path d="M10.4 2.3 L13 4.9" stroke="#fff" stroke-width="0.6"/></svg>
<svg class="b" style="left:1214.2px;top:398.88px;" width="17" height="13" viewBox="0 0 17 13"><path d="M0.6 6.35 C2.6 2.2 5.3 0.3 8.6 0.3 C11.9 0.3 14.7 2.2 16.8 6.35 C14.7 10.5 11.9 12.5 8.6 12.5 C5.3 12.5 2.6 10.5 0.6 6.35 Z" fill="#3b82f6"/><circle cx="8.6" cy="6.35" r="4.0" fill="#fff"/><circle cx="8.6" cy="6.35" r="2.95" fill="#3b82f6"/><circle cx="7.2" cy="5.0" r="1.45" fill="#fff"/><circle cx="8.6" cy="6.35" r="2.95" fill="none" stroke="#fff" stroke-width="0.0"/></svg>
<svg class="b" style="left:1237.5px;top:397.78px;" width="15" height="15" viewBox="0 0 15 15"><path d="M3.4 4.8 V2.5 Q3.4 0.95 5 0.95 H10 Q11.6 0.95 11.6 2.5 V4.8" fill="none" stroke="#3b82f6" stroke-width="1.9"/><rect x="0.2" y="5" width="14.6" height="5.8" rx="1.8" fill="#3b82f6"/><rect x="2.8" y="8.8" width="9.4" height="5.4" rx="1.6" fill="#3b82f6"/><rect x="4.6" y="10.2" width="5.8" height="2.4" fill="#fff"/><circle cx="12.2" cy="7.3" r="0.7" fill="#fff"/></svg>
<svg class="b" style="left:1258.8px;top:397.78px;" width="15" height="15" viewBox="0 0 15 15"><path d="M7.5 1 V8 M4.3 5 L7.5 8.2 L10.7 5" fill="none" stroke="#3b82f6" stroke-width="1.85" stroke-linecap="round" stroke-linejoin="round"/><path d="M0.6 11.2 Q0.6 9.4 2.4 9.4 H4.6 L7.5 12 L10.4 9.4 H12.6 Q14.4 9.4 14.4 11.2 V12.3 Q14.4 14.1 12.6 14.1 H2.4 Q0.6 14.1 0.6 12.3 Z" fill="#3b82f6"/><circle cx="12" cy="11.8" r="0.7" fill="#fff"/></svg>
<svg class="b" style="left:1280.6px;top:397.78px;" width="15" height="15" viewBox="0 0 15 15"><path d="M7.5 1 V8 M4.3 5 L7.5 8.2 L10.7 5" fill="none" stroke="#3b82f6" stroke-width="1.85" stroke-linecap="round" stroke-linejoin="round"/><path d="M0.6 11.2 Q0.6 9.4 2.4 9.4 H4.6 L7.5 12 L10.4 9.4 H12.6 Q14.4 9.4 14.4 11.2 V12.3 Q14.4 14.1 12.6 14.1 H2.4 Q0.6 14.1 0.6 12.3 Z" fill="#3b82f6"/><circle cx="12" cy="11.8" r="0.7" fill="#fff"/></svg>
<svg class="b" style="left:1301.8px;top:397.78px;" width="13" height="15" viewBox="0 0 13 15"><path d="M0.4 2.6 Q0.4 1.6 1.4 1.6 H4.4 L4.8 0.8 Q5 0.4 5.6 0.4 H7.4 Q8 0.4 8.2 0.8 L8.6 1.6 H11.6 Q12.6 1.6 12.6 2.6 V3.6 H0.4 Z" fill="#ef4444"/><path d="M1.2 4.4 H11.8 L11.2 13.4 Q11.1 14.6 9.8 14.6 H3.2 Q1.9 14.6 1.8 13.4 Z" fill="#ef4444"/></svg>
<div class="t" style="left:263.20px;top:435.05px;font-size:11.3px;line-height:11.3px;color:#555;font-weight:400;">18</div>
<div class="t" style="left:290.00px;top:435.05px;font-size:11.3px;line-height:11.3px;color:#555;font-weight:400;letter-spacing:0.26px;">SO-000018</div>
<div class="t" style="left:415.00px;top:435.05px;font-size:11.3px;line-height:11.3px;color:#555;font-weight:400;">Tools wave</div>
<div class="t" style="left:554.50px;top:435.05px;font-size:11.3px;line-height:11.3px;color:#555;font-weight:400;">Final</div>
<div class="t" style="left:664.50px;top:435.05px;font-size:11.3px;line-height:11.3px;color:#555;font-weight:400;">USD300</div>
<div class="t" style="left:788.50px;top:435.05px;font-size:11.3px;line-height:11.3px;color:#555;font-weight:400;">USD15.08</div>
<div class="t" style="left:912.50px;top:435.05px;font-size:11.3px;line-height:11.3px;color:#555;font-weight:400;">USD0</div>
<div class="t" style="left:1027.00px;top:435.05px;font-size:11.3px;line-height:11.3px;color:#555;font-weight:400;">USD315.08</div>
<div class="t" style="left:1121.00px;top:435.05px;font-size:11.3px;line-height:11.3px;color:#555;font-weight:400;letter-spacing:0.26px;">26/10/2024</div>
<div class="b" style="left:257px;top:459px;width:1064px;height:1px;background:#ececee"></div>
<svg class="b" style="left:1193px;top:434.24px;" width="17" height="13" viewBox="0 0 17 13"><path d="M0.6 6.35 C2.6 2.2 5.3 0.3 8.6 0.3 C11.9 0.3 14.7 2.2 16.8 6.35 C14.7 10.5 11.9 12.5 8.6 12.5 C5.3 12.5 2.6 10.5 0.6 6.35 Z" fill="#3b82f6"/><circle cx="8.6" cy="6.35" r="4.0" fill="#fff"/><circle cx="8.6" cy="6.35" r="2.95" fill="#3b82f6"/><circle cx="7.2" cy="5.0" r="1.45" fill="#fff"/><circle cx="8.6" cy="6.35" r="2.95" fill="none" stroke="#fff" stroke-width="0.0"/></svg>
<svg class="b" style="left:1216.5px;top:433.14px;" width="15" height="15" viewBox="0 0 15 15"><path d="M3.4 4.8 V2.5 Q3.4 0.95 5 0.95 H10 Q11.6 0.95 11.6 2.5 V4.8" fill="none" stroke="#3b82f6" stroke-width="1.9"/><rect x="0.2" y="5" width="14.6" height="5.8" rx="1.8" fill="#3b82f6"/><rect x="2.8" y="8.8" width="9.4" height="5.4" rx="1.6" fill="#3b82f6"/><rect x="4.6" y="10.2" width="5.8" height="2.4" fill="#fff"/><circle cx="12.2" cy="7.3" r="0.7" fill="#fff"/></svg>
<svg class="b" style="left:1237.6px;top:433.14px;" width="15" height="15" viewBox="0 0 15 15"><path d="M7.5 1 V8 M4.3 5 L7.5 8.2 L10.7 5" fill="none" stroke="#3b82f6" stroke-width="1.85" stroke-linecap="round" stroke-linejoin="round"/><path d="M0.6 11.2 Q0.6 9.4 2.4 9.4 H4.6 L7.5 12 L10.4 9.4 H12.6 Q14.4 9.4 14.4 11.2 V12.3 Q14.4 14.1 12.6 14.1 H2.4 Q0.6 14.1 0.6 12.3 Z" fill="#3b82f6"/><circle cx="12" cy="11.8" r="0.7" fill="#fff"/></svg>
<svg class="b" style="left:1258.8px;top:433.14px;" width="15" height="15" viewBox="0 0 15 15"><path d="M7.5 1 V8 M4.3 5 L7.5 8.2 L10.7 5" fill="none" stroke="#3b82f6" stroke-width="1.85" stroke-linecap="round" stroke-linejoin="round"/><path d="M0.6 11.2 Q0.6 9.4 2.4 9.4 H4.6 L7.5 12 L10.4 9.4 H12.6 Q14.4 9.4 14.4 11.2 V12.3 Q14.4 14.1 12.6 14.1 H2.4 Q0.6 14.1 0.6 12.3 Z" fill="#3b82f6"/><circle cx="12" cy="11.8" r="0.7" fill="#fff"/></svg>
<svg class="b" style="left:1280.8px;top:433.14px;" width="13" height="15" viewBox="0 0 13 15"><path d="M0.4 2.6 Q0.4 1.6 1.4 1.6 H4.4 L4.8 0.8 Q5 0.4 5.6 0.4 H7.4 Q8 0.4 8.2 0.8 L8.6 1.6 H11.6 Q12.6 1.6 12.6 2.6 V3.6 H0.4 Z" fill="#ef4444"/><path d="M1.2 4.4 H11.8 L11.2 13.4 Q11.1 14.6 9.8 14.6 H3.2 Q1.9 14.6 1.8 13.4 Z" fill="#ef4444"/></svg>
<div class="t" style="left:263.20px;top:470.38px;font-size:11.3px;line-height:11.3px;color:#555;font-weight:400;">17</div>
<div class="t" style="left:290.00px;top:470.38px;font-size:11.3px;line-height:11.3px;color:#555;font-weight:400;letter-spacing:0.26px;">SO-000017</div>
<div class="t" style="left:415.00px;top:470.38px;font-size:11.3px;line-height:11.3px;color:#555;font-weight:400;">Tools wave</div>
<div class="t" style="left:554.50px;top:470.38px;font-size:11.3px;line-height:11.3px;color:#555;font-weight:400;">Final</div>
<div class="t" style="left:664.50px;top:470.38px;font-size:11.3px;line-height:11.3px;color:#555;font-weight:400;">USD100</div>
<div class="t" style="left:788.50px;top:470.38px;font-size:11.3px;line-height:11.3px;color:#555;font-weight:400;">USD552.8</div>
<div class="t" style="left:912.50px;top:470.38px;font-size:11.3px;line-height:11.3px;color:#555;font-weight:400;">USD0</div>
<div class="t" style="left:1027.00px;top:470.38px;font-size:11.3px;line-height:11.3px;color:#555;font-weight:400;">USD652.8</div>
<div class="t" style="left:1121.00px;top:470.38px;font-size:11.3px;line-height:11.3px;color:#555;font-weight:400;letter-spacing:0.26px;">26/10/2024</div>
<div class="b" style="left:257px;top:494px;width:1064px;height:1px;background:#ececee"></div>
<svg class="b" style="left:1193px;top:469.6px;" width="17" height="13" viewBox="0 0 17 13"><path d="M0.6 6.35 C2.6 2.2 5.3 0.3 8.6 0.3 C11.9 0.3 14.7 2.2 16.8 6.35 C14.7 10.5 11.9 12.5 8.6 12.5 C5.3 12.5 2.6 10.5 0.6 6.35 Z" fill="#3b82f6"/><circle cx="8.6" cy="6.35" r="4.0" fill="#fff"/><circle cx="8.6" cy="6.35" r="2.95" fill="#3b82f6"/><circle cx="7.2" cy="5.0" r="1.45" fill="#fff"/><circle cx="8.6" cy="6.35" r="2.95" fill="none" stroke="#fff" stroke-width="0.0"/></svg>
<svg class="b" style="left:1216.5px;top:468.5px;" width="15" height="15" viewBox="0 0 15 15"><path d="M3.4 4.8 V2.5 Q3.4 0.95 5 0.95 H10 Q11.6 0.95 11.6 2.5 V4.8" fill="none" stroke="#3b82f6" stroke-width="1.9"/><rect x="0.2" y="5" width="14.6" height="5.8" rx="1.8" fill="#3b82f6"/><rect x="2.8" y="8.8" width="9.4" height="5.4" rx="1.6" fill="#3b82f6"/><rect x="4.6" y="10.2" width="5.8" height="2.4" fill="#fff"/><circle cx="12.2" cy="7.3" r="0.7" fill="#fff"/></svg>
<svg class="b" style="left:1237.6px;top:468.5px;" width="15" height="15" viewBox="0 0 15 15"><path d="M7.5 1 V8 M4.3 5 L7.5 8.2 L10.7 5" fill="none" stroke="#3b82f6" stroke-width="1.85" stroke-linecap="round" stroke-linejoin="round"/><path d="M0.6 11.2 Q0.6 9.4 2.4 9.4 H4.6 L7.5 12 L10.4 9.4 H12.6 Q14.4 9.4 14.4 11.2 V12.3 Q14.4 14.1 12.6 14.1 H2.4 Q0.6 14.1 0.6 12.3 Z" fill="#3b82f6"/><circle cx="12" cy="11.8" r="0.7" fill="#fff"/></svg>
<svg class="b" style="left:1258.8px;top:468.5px;" width="15" height="15" viewBox="0 0 15 15"><path d="M7.5 1 V8 M4.3 5 L7.5 8.2 L10.7 5" fill="none" stroke="#3b82f6" stroke-width="1.85" stroke-linecap="round" stroke-linejoin="round"/><path d="M0.6 11.2 Q0.6 9.4 2.4 9.4 H4.6 L7.5 12 L10.4 9.4 H12.6 Q14.4 9.4 14.4 11.2 V12.3 Q14.4 14.1 12.6 14.1 H2.4 Q0.6 14.1 0.6 12.3 Z" fill="#3b82f6"/><circle cx="12" cy="11.8" r="0.7" fill="#fff"/></svg>
<svg class="b" style="left:1280.8px;top:468.5px;" width="13" height="15" viewBox="0 0 13 15"><path d="M0.4 2.6 Q0.4 1.6 1.4 1.6 H4.4 L4.8 0.8 Q5 0.4 5.6 0.4 H7.4 Q8 0.4 8.2 0.8 L8.6 1.6 H11.6 Q12.6 1.6 12.6 2.6 V3.6 H0.4 Z" fill="#ef4444"/><path d="M1.2 4.4 H11.8 L11.2 13.4 Q11.1 14.6 9.8 14.6 H3.2 Q1.9 14.6 1.8 13.4 Z" fill="#ef4444"/></svg>
<div class="t" style="left:263.20px;top:505.71px;font-size:11.3px;line-height:11.3px;color:#555;font-weight:400;">16</div>
<div class="t" style="left:290.00px;top:505.71px;font-size:11.3px;line-height:11.3px;color:#555;font-weight:400;letter-spacing:0.26px;">SO-000016</div>
<div class="t" style="left:415.00px;top:505.71px;font-size:11.3px;line-height:11.3px;color:#555;font-weight:400;">Bob Johnson</div>
<div class="t" style="left:554.50px;top:505.71px;font-size:11.3px;line-height:11.3px;color:#555;font-weight:400;">Final</div>
<div class="t" style="left:664.50px;top:505.71px;font-size:11.3px;line-height:11.3px;color:#555;font-weight:400;">USD99</div>
<div class="t" style="left:788.50px;top:505.71px;font-size:11.3px;line-height:11.3px;color:#555;font-weight:400;">USD1947</div>
<div class="t" style="left:912.50px;top:505.71px;font-size:11.3px;line-height:11.3px;color:#555;font-weight:400;">USD0</div>
<div class="t" style="left:1027.00px;top:505.71px;font-size:11.3px;line-height:11.3px;color:#555;font-weight:400;">USD2046</div>
<div class="t" style="left:1121.00px;top:505.71px;font-size:11.3px;line-height:11.3px;color:#555;font-weight:400;letter-spacing:0.26px;">30/10/2024</div>
<div class="b" style="left:257px;top:530px;width:1064px;height:1px;background:#ececee"></div>
<svg class="b" style="left:1193px;top:504.96000000000004px;" width="17" height="13" viewBox="0 0 17 13"><path d="M0.6 6.35 C2.6 2.2 5.3 0.3 8.6 0.3 C11.9 0.3 14.7 2.2 16.8 6.35 C14.7 10.5 11.9 12.5 8.6 12.5 C5.3 12.5 2.6 10.5 0.6 6.35 Z" fill="#3b82f6"/><circle cx="8.6" cy="6.35" r="4.0" fill="#fff"/><circle cx="8.6" cy="6.35" r="2.95" fill="#3b82f6"/><circle cx="7.2" cy="5.0" r="1.45" fill="#fff"/><circle cx="8.6" cy="6.35" r="2.95" fill="none" stroke="#fff" stroke-width="0.0"/></svg>
<svg class="b" style="left:1216.5px;top:503.86px;" width="15" height="15" viewBox="0 0 15 15"><path d="M3.4 4.8 V2.5 Q3.4 0.95 5 0.95 H10 Q11.6 0.95 11.6 2.5 V4.8" fill="none" stroke="#3b82f6" stroke-width="1.9"/><rect x="0.2" y="5" width="14.6" height="5.8" rx="1.8" fill="#3b82f6"/><rect x="2.8" y="8.8" width="9.4" height="5.4" rx="1.6" fill="#3b82f6"/><rect x="4.6" y="10.2" width="5.8" height="2.4" fill="#fff"/><circle cx="12.2" cy="7.3" r="0.7" fill="#fff"/></svg>
<svg class="b" style="left:1237.6px;top:503.86px;" width="15" height="15" viewBox="0 0 15 15"><path d="M7.5 1 V8 M4.3 5 L7.5 8.2 L10.7 5" fill="none" stroke="#3b82f6" stroke-width="1.85" stroke-linecap="round" stroke-linejoin="round"/><path d="M0.6 11.2 Q0.6 9.4 2.4 9.4 H4.6 L7.5 12 L10.4 9.4 H12.6 Q14.4 9.4 14.4 11.2 V12.3 Q14.4 14.1 12.6 14.1 H2.4 Q0.6 14.1 0.6 12.3 Z" fill="#3b82f6"/><circle cx="12" cy="11.8" r="0.7" fill="#fff"/></svg>
<svg class="b" style="left:1258.8px;top:503.86px;" width="15" height="15" viewBox="0 0 15 15"><path d="M7.5 1 V8 M4.3 5 L7.5 8.2 L10.7 5" fill="none" stroke="#3b82f6" stroke-width="1.85" stroke-linecap="round" stroke-linejoin="round"/><path d="M0.6 11.2 Q0.6 9.4 2.4 9.4 H4.6 L7.5 12 L10.4 9.4 H12.6 Q14.4 9.4 14.4 11.2 V12.3 Q14.4 14.1 12.6 14.1 H2.4 Q0.6 14.1 0.6 12.3 Z" fill="#3b82f6"/><circle cx="12" cy="11.8" r="0.7" fill="#fff"/></svg>
<svg class="b" style="left:1280.8px;top:503.86px;" width="13" height="15" viewBox="0 0 13 15"><path d="M0.4 2.6 Q0.4 1.6 1.4 1.6 H4.4 L4.8 0.8 Q5 0.4 5.6 0.4 H7.4 Q8 0.4 8.2 0.8 L8.6 1.6 H11.6 Q12.6 1.6 12.6 2.6 V3.6 H0.4 Z" fill="#ef4444"/><path d="M1.2 4.4 H11.8 L11.2 13.4 Q11.1 14.6 9.8 14.6 H3.2 Q1.9 14.6 1.8 13.4 Z" fill="#ef4444"/></svg>
<div class="t" style="left:263.20px;top:541.04px;font-size:11.3px;line-height:11.3px;color:#555;font-weight:400;">15</div>
<div class="t" style="left:290.00px;top:541.04px;font-size:11.3px;line-height:11.3px;color:#555;font-weight:400;letter-spacing:0.26px;">SO-000015</div>
<div class="t" style="left:415.00px;top:541.04px;font-size:11.3px;line-height:11.3px;color:#555;font-weight:400;">Bob Johnson</div>
<div class="t" style="left:554.50px;top:541.04px;font-size:11.3px;line-height:11.3px;color:#555;font-weight:400;">Draft</div>
<div class="t" style="left:664.50px;top:541.04px;font-size:11.3px;line-height:11.3px;color:#555;font-weight:400;">USD6547.2</div>
<div class="t" style="left:788.50px;top:541.04px;font-size:11.3px;line-height:11.3px;color:#555;font-weight:400;">USD0</div>
<div class="t" style="left:912.50px;top:541.04px;font-size:11.3px;line-height:11.3px;color:#555;font-weight:400;">USD0</div>
<div class="t" style="left:1027.00px;top:541.04px;font-size:11.3px;line-height:11.3px;color:#555;font-weight:400;">USD6547.2</div>
<div class="t" style="left:1121.00px;top:541.04px;font-size:11.3px;line-height:11.3px;color:#555;font-weight:400;letter-spacing:0.26px;">25/10/2024</div>
<div class="b" style="left:257px;top:565px;width:1064px;height:1px;background:#ececee"></div>
<svg class="b" style="left:1193px;top:538.7199999999999px;" width="15" height="15" viewBox="0 0 15 15"><path d="M6.8 3.25 H3.6 Q1.15 3.25 1.15 5.7 V11.2 Q1.15 13.65 3.6 13.65 H9.6 Q12.05 13.65 12.05 11.2 V8.2" fill="none" stroke="#1dba7c" stroke-width="1.9" stroke-linecap="round"/><path d="M4 11.4 L4.7 8 L11.4 1.3 Q12.5 0.3 13.6 1.3 L14 1.7 Q15 2.8 14 3.9 L7.4 10.6 Z" fill="#1dba7c"/><path d="M10.4 2.3 L13 4.9" stroke="#fff" stroke-width="0.6"/></svg>
<svg class="b" style="left:1214.2px;top:540.3199999999999px;" width="17" height="13" viewBox="0 0 17 13"><path d="M0.6 6.35 C2.6 2.2 5.3 0.3 8.6 0.3 C11.9 0.3 14.7 2.2 16.8 6.35 C14.7 10.5 11.9 12.5 8.6 12.5 C5.3 12.5 2.6 10.5 0.6 6.35 Z" fill="#3b82f6"/><circle cx="8.6" cy="6.35" r="4.0" fill="#fff"/><circle cx="8.6" cy="6.35" r="2.95" fill="#3b82f6"/><circle cx="7.2" cy="5.0" r="1.45" fill="#fff"/><circle cx="8.6" cy="6.35" r="2.95" fill="none" stroke="#fff" stroke-width="0.0"/></svg>
<svg class="b" style="left:1237.5px;top:539.2199999999999px;" width="15" height="15" viewBox="0 0 15 15"><path d="M3.4 4.8 V2.5 Q3.4 0.95 5 0.95 H10 Q11.6 0.95 11.6 2.5 V4.8" fill="none" stroke="#3b82f6" stroke-width="1.9"/><rect x="0.2" y="5" width="14.6" height="5.8" rx="1.8" fill="#3b82f6"/><rect x="2.8" y="8.8" width="9.4" height="5.4" rx="1.6" fill="#3b82f6"/><rect x="4.6" y="10.2" width="5.8" height="2.4" fill="#fff"/><circle cx="12.2" cy="7.3" r="0.7" fill="#fff"/></svg>
<svg class="b" style="left:1258.8px;top:539.2199999999999px;" width="15" height="15" viewBox="0 0 15 15"><path d="M7.5 1 V8 M4.3 5 L7.5 8.2 L10.7 5" fill="none" stroke="#3b82f6" stroke-width="1.85" stroke-linecap="round" stroke-linejoin="round"/><path d="M0.6 11.2 Q0.6 9.4 2.4 9.4 H4.6 L7.5 12 L10.4 9.4 H12.6 Q14.4 9.4 14.4 11.2 V12.3 Q14.4 14.1 12.6 14.1 H2.4 Q0.6 14.1 0.6 12.3 Z" fill="#3b82f6"/><circle cx="12" cy="11.8" r="0.7" fill="#fff"/></svg>
<svg class="b" style="left:1280.6px;top:539.2199999999999px;" width="15" height="15" viewBox="0 0 15 15"><path d="M7.5 1 V8 M4.3 5 L7.5 8.2 L10.7 5" fill="none" stroke="#3b82f6" stroke-width="1.85" stroke-linecap="round" stroke-linejoin="round"/><path d="M0.6 11.2 Q0.6 9.4 2.4 9.4 H4.6 L7.5 12 L10.4 9.4 H12.6 Q14.4 9.4 14.4 11.2 V12.3 Q14.4 14.1 12.6 14.1 H2.4 Q0.6 14.1 0.6 12.3 Z" fill="#3b82f6"/><circle cx="12" cy="11.8" r="0.7" fill="#fff"/></svg>
<svg class="b" style="left:1301.8px;top:539.2199999999999px;" width="13" height="15" viewBox="0 0 13 15"><path d="M0.4 2.6 Q0.4 1.6 1.4 1.6 H4.4 L4.8 0.8 Q5 0.4 5.6 0.4 H7.4 Q8 0.4 8.2 0.8 L8.6 1.6 H11.6 Q12.6 1.6 12.6 2.6 V3.6 H0.4 Z" fill="#ef4444"/><path d="M1.2 4.4 H11.8 L11.2 13.4 Q11.1 14.6 9.8 14.6 H3.2 Q1.9 14.6 1.8 13.4 Z" fill="#ef4444"/></svg>
<div class="t" style="left:263.20px;top:576.37px;font-size:11.3px;line-height:11.3px;color:#555;font-weight:400;">14</div>
<div class="t" style="left:290.00px;top:576.37px;font-size:11.3px;line-height:11.3px;color:#555;font-weight:400;letter-spacing:0.26px;">SO-000014</div>
<div class="t" style="left:415.00px;top:576.37px;font-size:11.3px;line-height:11.3px;color:#555;font-weight:400;">Constantine Zubarev</div>
<div class="t" style="left:554.50px;top:576.37px;font-size:11.3px;line-height:11.3px;color:#555;font-weight:400;">Final</div>
<div class="t" style="left:664.50px;top:576.37px;font-size:11.3px;line-height:11.3px;color:#555;font-weight:400;">USD1000</div>
<div class="t" style="left:788.50px;top:576.37px;font-size:11.3px;line-height:11.3px;color:#555;font-weight:400;">USD636.8</div>
<div class="t" style="left:912.50px;top:576.37px;font-size:11.3px;line-height:11.3px;color:#555;font-weight:400;">USD0</div>
<div class="t" style="left:1027.00px;top:576.37px;font-size:11.3px;line-height:11.3px;color:#555;font-weight:400;">USD1636.8</div>
<div class="t" style="left:1121.00px;top:576.37px;font-size:11.3px;line-height:11.3px;color:#555;font-weight:400;letter-spacing:0.26px;">26/10/2024</div>
<div class="b" style="left:257px;top:601px;width:1064px;height:1px;background:#ececee"></div>
<svg class="b" style="left:1193px;top:575.6800000000001px;" width="17" height="13" viewBox="0 0 17 13"><path d="M0.6 6.35 C2.6 2.2 5.3 0.3 8.6 0.3 C11.9 0.3 14.7 2.2 16.8 6.35 C14.7 10.5 11.9 12.5 8.6 12.5 C5.3 12.5 2.6 10.5 0.6 6.35 Z" fill="#3b82f6"/><circle cx="8.6" cy="6.35" r="4.0" fill="#fff"/><circle cx="8.6" cy="6.35" r="2.95" fill="#3b82f6"/><circle cx="7.2" cy="5.0" r="1.45" fill="#fff"/><circle cx="8.6" cy="6.35" r="2.95" fill="none" stroke="#fff" stroke-width="0.0"/></svg>
<svg class="b" style="left:1216.5px;top:574.58px;" width="15" height="15" viewBox="0 0 15 15"><path d="M3.4 4.8 V2.5 Q3.4 0.95 5 0.95 H10 Q11.6 0.95 11.6 2.5 V4.8" fill="none" stroke="#3b82f6" stroke-width="1.9"/><rect x="0.2" y="5" width="14.6" height="5.8" rx="1.8" fill="#3b82f6"/><rect x="2.8" y="8.8" width="9.4" height="5.4" rx="1.6" fill="#3b82f6"/><rect x="4.6" y="10.2" width="5.8" height="2.4" fill="#fff"/><circle cx="12.2" cy="7.3" r="0.7" fill="#fff"/></svg>
<svg class="b" style="left:1237.6px;top:574.58px;" width="15" height="15" viewBox="0 0 15 15"><path d="M7.5 1 V8 M4.3 5 L7.5 8.2 L10.7 5" fill="none" stroke="#3b82f6" stroke-width="1.85" stroke-linecap="round" stroke-linejoin="round"/><path d="M0.6 11.2 Q0.6 9.4 2.4 9.4 H4.6 L7.5 12 L10.4 9.4 H12.6 Q14.4 9.4 14.4 11.2 V12.3 Q14.4 14.1 12.6 14.1 H2.4 Q0.6 14.1 0.6 12.3 Z" fill="#3b82f6"/><circle cx="12" cy="11.8" r="0.7" fill="#fff"/></svg>
<svg class="b" style="left:1258.8px;top:574.58px;" width="15" height="15" viewBox="0 0 15 15"><path d="M7.5 1 V8 M4.3 5 L7.5 8.2 L10.7 5" fill="none" stroke="#3b82f6" stroke-width="1.85" stroke-linecap="round" stroke-linejoin="round"/><path d="M0.6 11.2 Q0.6 9.4 2.4 9.4 H4.6 L7.5 12 L10.4 9.4 H12.6 Q14.4 9.4 14.4 11.2 V12.3 Q14.4 14.1 12.6 14.1 H2.4 Q0.6 14.1 0.6 12.3 Z" fill="#3b82f6"/><circle cx="12" cy="11.8" r="0.7" fill="#fff"/></svg>
<svg class="b" style="left:1280.8px;top:574.58px;" width="13" height="15" viewBox="0 0 13 15"><path d="M0.4 2.6 Q0.4 1.6 1.4 1.6 H4.4 L4.8 0.8 Q5 0.4 5.6 0.4 H7.4 Q8 0.4 8.2 0.8 L8.6 1.6 H11.6 Q12.6 1.6 12.6 2.6 V3.6 H0.4 Z" fill="#ef4444"/><path d="M1.2 4.4 H11.8 L11.2 13.4 Q11.1 14.6 9.8 14.6 H3.2 Q1.9 14.6 1.8 13.4 Z" fill="#ef4444"/></svg>
<div class="t" style="left:263.20px;top:611.70px;font-size:11.3px;line-height:11.3px;color:#555;font-weight:400;">13</div>
<div class="t" style="left:290.00px;top:611.70px;font-size:11.3px;line-height:11.3px;color:#555;font-weight:400;letter-spacing:0.26px;">SO-000013</div>
<div class="t" style="left:415.00px;top:611.70px;font-size:11.3px;line-height:11.3px;color:#555;font-weight:400;">Constantine Zubarev</div>
<div class="t" style="left:554.50px;top:611.70px;font-size:11.3px;line-height:11.3px;color:#555;font-weight:400;">Draft</div>
<div class="t" style="left:664.50px;top:611.70px;font-size:11.3px;line-height:11.3px;color:#555;font-weight:400;">USD3273.6</div>
<div class="t" style="left:788.50px;top:611.70px;font-size:11.3px;line-height:11.3px;color:#555;font-weight:400;">USD0</div>
<div class="t" style="left:912.50px;top:611.70px;font-size:11.3px;line-height:11.3px;color:#555;font-weight:400;">USD0</div>
<div class="t" style="left:1027.00px;top:611.70px;font-size:11.3px;line-height:11.3px;color:#555;font-weight:400;">USD3273.6</div>
<div class="t" style="left:1121.00px;top:611.70px;font-size:11.3px;line-height:11.3px;color:#555;font-weight:400;letter-spacing:0.26px;">26/10/2024</div>
<div class="b" style="left:257px;top:636px;width:1064px;height:1px;background:#ececee"></div>
<svg class="b" style="left:1193px;top:609.4399999999999px;" width="15" height="15" viewBox="0 0 15 15"><path d="M6.8 3.25 H3.6 Q1.15 3.25 1.15 5.7 V11.2 Q1.15 13.65 3.6 13.65 H9.6 Q12.05 13.65 12.05 11.2 V8.2" fill="none" stroke="#1dba7c" stroke-width="1.9" stroke-linecap="round"/><path d="M4 11.4 L4.7 8 L11.4 1.3 Q12.5 0.3 13.6 1.3 L14 1.7 Q15 2.8 14 3.9 L7.4 10.6 Z" fill="#1dba7c"/><path d="M10.4 2.3 L13 4.9" stroke="#fff" stroke-width="0.6"/></svg>
<svg class="b" style="left:1214.2px;top:611.04px;" width="17" height="13" viewBox="0 0 17 13"><path d="M0.6 6.35 C2.6 2.2 5.3 0.3 8.6 0.3 C11.9 0.3 14.7 2.2 16.8 6.35 C14.7 10.5 11.9 12.5 8.6 12.5 C5.3 12.5 2.6 10.5 0.6 6.35 Z" fill="#3b82f6"/><circle cx="8.6" cy="6.35" r="4.0" fill="#fff"/><circle cx="8.6" cy="6.35" r="2.95" fill="#3b82f6"/><circle cx="7.2" cy="5.0" r="1.45" fill="#fff"/><circle cx="8.6" cy="6.35" r="2.95" fill="none" stroke="#fff" stroke-width="0.0"/></svg>
<svg class="b" style="left:1237.5px;top:609.9399999999999px;" width="15" height="15" viewBox="0 0 15 15"><path d="M3.4 4.8 V2.5 Q3.4 0.95 5 0.95 H10 Q11.6 0.95 11.6 2.5 V4.8" fill="none" stroke="#3b82f6" stroke-width="1.9"/><rect x="0.2" y="5" width="14.6" height="5.8" rx="1.8" fill="#3b82f6"/><rect x="2.8" y="8.8" width="9.4" height="5.4" rx="1.6" fill="#3b82f6"/><rect x="4.6" y="10.2" width="5.8" height="2.4" fill="#fff"/><circle cx="12.2" cy="7.3" r="0.7" fill="#fff"/></svg>
<svg class="b" style="left:1258.8px;top:609.9399999999999px;" width="15" height="15" viewBox="0 0 15 15"><path d="M7.5 1 V8 M4.3 5 L7.5 8.2 L10.7 5" fill="none" stroke="#3b82f6" stroke-width="1.85" stroke-linecap="round" stroke-linejoin="round"/><path d="M0.6 11.2 Q0.6 9.4 2.4 9.4 H4.6 L7.5 12 L10.4 9.4 H12.6 Q14.4 9.4 14.4 11.2 V12.3 Q14.4 14.1 12.6 14.1 H2.4 Q0.6 14.1 0.6 12.3 Z" fill="#3b82f6"/><circle cx="12" cy="11.8" r="0.7" fill="#fff"/></svg>
<svg class="b" style="left:1280.6px;top:609.9399999999999px;" width="15" height="15" viewBox="0 0 15 15"><path d="M7.5 1 V8 M4.3 5 L7.5 8.2 L10.7 5" fill="none" stroke="#3b82f6" stroke-width="1.85" stroke-linecap="round" stroke-linejoin="round"/><path d="M0.6 11.2 Q0.6 9.4 2.4 9.4 H4.6 L7.5 12 L10.4 9.4 H12.6 Q14.4 9.4 14.4 11.2 V12.3 Q14.4 14.1 12.6 14.1 H2.4 Q0.6 14.1 0.6 12.3 Z" fill="#3b82f6"/><circle cx="12" cy="11.8" r="0.7" fill="#fff"/></svg>
<svg class="b" style="left:1301.8px;top:609.9399999999999px;" width="13" height="15" viewBox="0 0 13 15"><path d="M0.4 2.6 Q0.4 1.6 1.4 1.6 H4.4 L4.8 0.8 Q5 0.4 5.6 0.4 H7.4 Q8 0.4 8.2 0.8 L8.6 1.6 H11.6 Q12.6 1.6 12.6 2.6 V3.6 H0.4 Z" fill="#ef4444"/><path d="M1.2 4.4 H11.8 L11.2 13.4 Q11.1 14.6 9.8 14.6 H3.2 Q1.9 14.6 1.8 13.4 Z" fill="#ef4444"/></svg>
<div class="t" style="left:257.50px;top:656.20px;font-size:10.4px;line-height:10.4px;color:#ababab;font-weight:400;letter-spacing:0.12px;">Showing 1 to 10 of 22 entries</div>
<div class="b" style="left:1093px;top:653px;width:62px;height:27px;background:#efeff1;border-radius:5px"></div>
<div class="t" style="left:1102.50px;top:658.99px;font-size:11px;line-height:11px;color:#9d9d9d;font-weight:400;">Previous</div>
<div class="b" style="left:1161px;top:653px;width:28px;height:27px;background:#8b5cf6;border-radius:5px"></div>
<div class="t" style="left:1171.50px;top:659.84px;font-size:12px;line-height:12px;color:#fff;font-weight:400;">1</div>
<div class="b" style="left:1194px;top:653px;width:28px;height:27px;background:#e7e7e9;border-radius:5px"></div>
<div class="t" style="left:1204.50px;top:659.84px;font-size:12px;line-height:12px;color:#555;font-weight:400;">2</div>
<div class="b" style="left:1228px;top:653px;width:28px;height:27px;background:#e7e7e9;border-radius:5px"></div>
<div class="t" style="left:1238.50px;top:659.84px;font-size:12px;line-height:12px;color:#555;font-weight:400;">3</div>
<div class="b" style="left:1262px;top:653px;width:43px;height:27px;background:#e7e7e9;border-radius:5px"></div>
<div class="t" style="left:1271.30px;top:658.52px;font-size:11.2px;line-height:11.2px;color:#555;font-weight:400;">Next</div>
</body></html>
